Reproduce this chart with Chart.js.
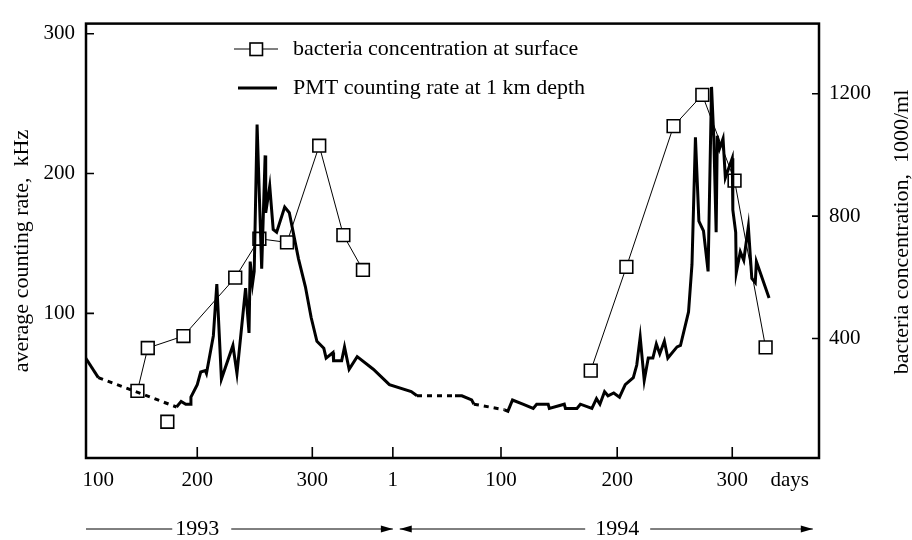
<!DOCTYPE html>
<html>
<head>
<meta charset="utf-8">
<script src="https://cdn.jsdelivr.net/npm/chart.js@4"></script>
<style>
  html, body { margin: 0; padding: 0; background: #fff; }
  #wrap { width: 912px; height: 540px; }
</style>
</head>
<body>
<div id="wrap"><canvas id="myChart" width="912" height="540"></canvas></div>
<script>
// x = days counted on one running axis from 1993 into 1994
const pmtDays = [
  103, 114, 182, 186, 190, 194, 194.5, 200, 203, 207,
  208, 214, 217, 221, 231, 234.5, 242, 245, 246, 248,
  249.5, 252, 256, 259, 259.5, 263, 266, 269, 276, 280,
  288, 294, 299, 304, 310, 312, 318, 318.5, 325.5, 328,
  332, 339, 353, 367, 386, 391, 424, 430, 438.5, 440.5,
  467, 470, 474, 483, 492, 495, 505, 506, 519, 520,
  530, 533, 543, 547, 550, 554, 557, 562, 567, 572,
  579, 582, 585, 588.5, 592, 596, 599, 602, 606, 609,
  617, 620, 627, 630, 633, 636, 640, 644, 647, 649,
  651, 652, 654, 657, 659, 665, 665.5, 668, 668.5, 672,
  675, 679, 682, 685, 686, 689, 697
];
const pmtRate = [
  68, 54, 33, 37, 35, 35, 40, 49, 58, 59,
  57, 84, 121, 53, 77, 57, 118, 86, 137, 121,
  130, 235, 132, 213, 172, 191, 160, 158, 176, 172,
  139, 119, 97, 80, 75, 68, 72, 66, 66, 76,
  60, 69, 60, 49, 44, 41, 41, 41, 38, 35,
  31, 30, 38, 35, 32, 35, 35, 32, 35, 32,
  32, 35, 32, 39, 35, 44, 41, 43, 40, 49,
  54, 63, 83, 52, 68, 68, 78, 71, 80, 68,
  76, 77, 101, 135, 226, 166, 159, 130, 262, 225,
  158, 227, 218, 225, 197, 211, 174, 158, 129, 144,
  138, 162, 125, 122, 137, 130, 111
];
// segments starting at these days have no measurements (dashed)
const pmtGapStarts = [114, 391, 440.5];

const bact1993Days = [148, 157, 188, 233, 254, 278, 306, 327, 344];
const bact1993Conc = [229, 369, 408, 599, 726, 714, 1030, 738, 624];
const bactLoneDays = [174];
const bactLoneConc = [128];
const bact1994Days = [542, 573, 614, 639, 667, 694];
const bact1994Conc = [295, 634, 1094, 1196, 916, 371];

const xTickDays = [114, 200, 300, 370, 464, 565, 665, 715];
const xTickText = ["100", "200", "300", "1", "100", "200", "300", "days"];
const leftTicks = [100, 200, 300];
const rightTicks = [400, 800, 1200];

const yearLabels = ["1993", "1994"];
const yearCenters = [200, 565];
const yearSpans = [[103.3, 370], [376, 735]];

const serif = "'Liberation Serif', 'Times New Roman', serif";

const pts = (xs, ys) => xs.map((x, i) => ({ x: x, y: ys[i] }));
const bactData = pts(bact1993Days, bact1993Conc)
  .concat([{ x: 450, y: null }])
  .concat(pts(bact1994Days, bact1994Conc));

const extras = {
  id: "extras",
  afterDraw(chart) {
    const { ctx, chartArea: a, scales } = chart;
    ctx.save();
    ctx.strokeStyle = "#000";
    ctx.fillStyle = "#000";

    // frame
    ctx.lineWidth = 2.5;
    ctx.strokeRect(a.left, a.top, a.right - a.left, a.bottom - a.top);

    // inward tick marks
    ctx.lineWidth = 1.6;
    ctx.beginPath();
    scales.x.ticks.forEach((t, i) => {
      if (i === 0 || i === scales.x.ticks.length - 1) return;
      const px = scales.x.getPixelForValue(t.value);
      ctx.moveTo(px, a.bottom);
      ctx.lineTo(px, a.bottom - 11);
    });
    scales.y.ticks.forEach(t => {
      const py = scales.y.getPixelForValue(t.value);
      ctx.moveTo(a.left, py);
      ctx.lineTo(a.left + 8, py);
    });
    scales.y1.ticks.forEach(t => {
      const py = scales.y1.getPixelForValue(t.value);
      ctx.moveTo(a.right, py);
      ctx.lineTo(a.right - 7, py);
    });
    ctx.stroke();

    // axis titles, both read bottom to top
    ctx.font = "22px " + serif;
    ctx.textAlign = "center";
    ctx.textBaseline = "middle";
    ctx.save();
    ctx.translate(22, 251);
    ctx.rotate(-Math.PI / 2);
    ctx.fillText("average counting rate,  kHz", 0, 0);
    ctx.restore();
    ctx.save();
    ctx.translate(902, 232);
    ctx.rotate(-Math.PI / 2);
    ctx.fillText("bacteria concentration,  1000/ml", 0, 0);
    ctx.restore();

    // legend
    const ds0 = chart.data.datasets[0];
    const ds1 = chart.data.datasets[1];
    ctx.textAlign = "left";
    ctx.lineWidth = ds1.borderWidth;
    ctx.beginPath();
    ctx.moveTo(234, 49);
    ctx.lineTo(278, 49);
    ctx.stroke();
    ctx.fillStyle = "#fff";
    ctx.lineWidth = ds1.pointBorderWidth;
    ctx.fillRect(250, 43, 12.5, 12.5);
    ctx.strokeRect(250, 43, 12.5, 12.5);
    ctx.fillStyle = "#000";
    ctx.fillText(ds1.label, 293, 49);
    ctx.lineWidth = ds0.borderWidth;
    ctx.beginPath();
    ctx.moveTo(238, 88);
    ctx.lineTo(277, 88);
    ctx.stroke();
    ctx.fillText(ds0.label, 293, 88);

    // year spans under the axis
    const yy = 529;
    const gapL = [3, 10];
    const gapR = [12, 11];
    ctx.lineWidth = 1;
    ctx.textAlign = "center";
    yearLabels.forEach((lab, i) => {
      const cx = scales.x.getPixelForValue(yearCenters[i]);
      const x0 = scales.x.getPixelForValue(yearSpans[i][0]);
      const x1 = scales.x.getPixelForValue(yearSpans[i][1]);
      const w = ctx.measureText(lab).width;
      ctx.fillText(lab, cx, yy);
      ctx.beginPath();
      ctx.moveTo(x0, yy);
      ctx.lineTo(cx - w / 2 - gapL[i], yy);
      ctx.moveTo(cx + w / 2 + gapR[i], yy);
      ctx.lineTo(x1, yy);
      ctx.stroke();
      // right arrow head
      ctx.beginPath();
      ctx.moveTo(x1, yy);
      ctx.lineTo(x1 - 12, yy - 3.5);
      ctx.lineTo(x1 - 12, yy + 3.5);
      ctx.closePath();
      ctx.fill();
      if (i === 1) {
        ctx.beginPath();
        ctx.moveTo(x0, yy);
        ctx.lineTo(x0 + 12, yy - 3.5);
        ctx.lineTo(x0 + 12, yy + 3.5);
        ctx.closePath();
        ctx.fill();
      }
    });
    ctx.restore();
  }
};

const ctx = document.getElementById("myChart").getContext("2d");
const bacteriaChart = new Chart(ctx, {
  type: "line",
  data: {
    datasets: [
      {
        label: "PMT counting rate at 1 km depth",
        data: pts(pmtDays, pmtRate),
        yAxisID: "y",
        borderColor: "#000",
        borderWidth: 3,
        pointRadius: 0,
        tension: 0,
        borderJoinStyle: "miter",
        segment: {
          borderDash: c => (pmtGapStarts.includes(c.p0.parsed.x) ? [5, 5] : undefined),
        },
      },
      {
        label: "bacteria concentration at surface",
        data: bactData,
        yAxisID: "y1",
        borderColor: "#000",
        borderWidth: 1,
        pointStyle: "rect",
        pointRadius: 9,
        pointBorderWidth: 1.6,
        pointBackgroundColor: "#fff",
        pointBorderColor: "#000",
        spanGaps: false,
        tension: 0,
      },
      {
        label: "bacteria lone",
        data: pts(bactLoneDays, bactLoneConc),
        yAxisID: "y1",
        showLine: false,
        pointStyle: "rect",
        pointRadius: 9,
        pointBorderWidth: 1.6,
        pointBackgroundColor: "#fff",
        pointBorderColor: "#000",
      },
    ],
  },
  options: {
    responsive: false,
    animation: false,
    layout: { padding: { top: 12, left: 0, right: 0, bottom: 0 } },
    plugins: {
      legend: { display: false },
      tooltip: { enabled: false },
    },
    scales: {
      x: {
        type: "linear",
        min: 103.3,
        max: 740.4,
        grid: { display: false, drawTicks: false },
        border: { display: false },
        afterBuildTicks: s => { s.ticks = xTickDays.map(v => ({ value: v })); },
        afterFit: s => { s.height = 82; },
        ticks: {
          autoSkip: false,
          maxRotation: 0,
          padding: 10,
          color: "#000",
          font: { family: serif, size: 21 },
          callback: (v, i) => xTickText[i],
        },
      },
      y: {
        position: "left",
        min: -3.5,
        max: 307.3,
        grid: { display: false, drawTicks: false },
        border: { display: false },
        afterBuildTicks: s => { s.ticks = leftTicks.map(v => ({ value: v })); },
        afterFit: s => { s.width = 86; },
        ticks: {
          padding: 11,
          color: "#000",
          font: { family: serif, size: 21 },
          callback: v => String(v),
        },
      },
      y1: {
        position: "right",
        min: 9.5,
        max: 1429,
        grid: { display: false, drawTicks: false },
        border: { display: false },
        afterBuildTicks: s => { s.ticks = rightTicks.map(v => ({ value: v })); },
        afterFit: s => { s.width = 93; },
        ticks: {
          padding: 10,
          color: "#000",
          font: { family: serif, size: 21 },
          callback: v => String(v),
        },
      },
    },
  },
  plugins: [extras],
});
</script>
</body>
</html>
